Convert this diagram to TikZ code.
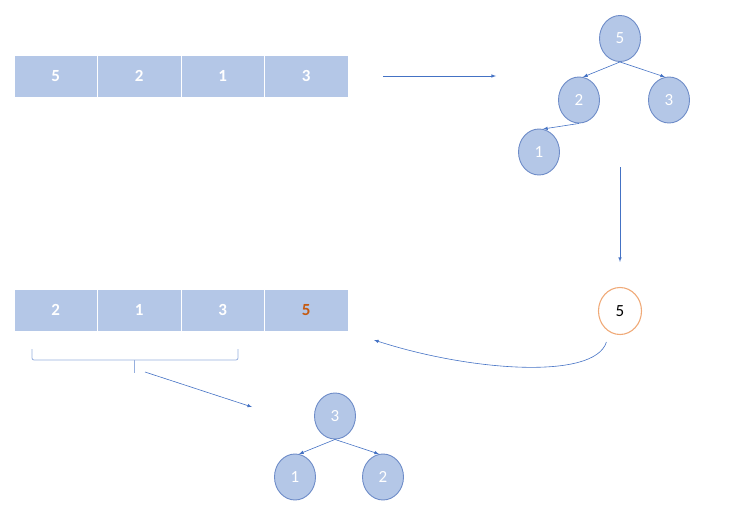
\documentclass[tikz,border=0pt]{standalone}
\usepackage{fontspec}
\setmainfont{Carlito}
\usepackage{tikz}
\usetikzlibrary{shapes.geometric, arrows, positioning, calc}
\definecolor{cellblue}{RGB}{180,199,231}
\definecolor{rimblue}{RGB}{110,140,200}
\definecolor{linkblue}{RGB}{68,114,196}
\definecolor{pivotorange}{RGB}{240,170,120}
\definecolor{keyorange}{RGB}{197,90,17}
\definecolor{bracegray}{RGB}{150,175,222}

\begin{document}
\begin{tikzpicture}[
    x=1pt, y=1pt,
    cell/.style={rectangle, minimum width=83.5pt, minimum height=42pt, inner sep=0pt, outer sep=0pt,
                 fill=cellblue, draw=white, line width=1pt, text=white, font=\fontsize{17}{20}\selectfont\bfseries},
    heapnode/.style={ellipse, minimum width=41pt, minimum height=46pt, inner sep=0pt,
                     fill=cellblue, draw=rimblue, line width=0.9pt, text=white, font=\fontsize{17}{20}\selectfont},
    pivotnode/.style={ellipse, minimum width=43pt, minimum height=47pt, inner sep=0pt,
                      fill=white, draw=pivotorange, line width=1.1pt, font=\fontsize{17}{20}\selectfont},
    link/.style={draw=linkblue, -latex, line width=0.6pt},
    bracket/.style={draw=bracegray, line width=0.8pt}
]
    \useasboundingbox (0,0) rectangle (740,-506);
    % Input array
    \node[cell] (t1) at (55.75,-76) {5};
    \node[cell, right=0pt of t1] (t2) {2};
    \node[cell, right=0pt of t2] (t3) {1};
    \node[cell, right=0pt of t3] (t4) {3};
    % Heap built from the array
    \node[heapnode] (h5) at (620,-38.5) {5};
    \node[heapnode] (h2) at (579,-100) {2};
    \node[heapnode] (h3) at (669,-100) {3};
    \node[heapnode] (h1) at (539,-152) {1};
    \draw[link, shorten <=35pt, shorten >=62pt] (t4.east) -- (t4.east -| h2.west);
    \draw[link] (h5.south) -- (h2.80);
    \draw[link] (h5.south) -- (h3.100);
    \draw[link] (h2.south) -- (h1.80);
    % Extracted maximum
    \node[pivotnode] (pivot) at (620,-311) {5};
    \draw[link] ([yshift=8pt]pivot.north |- h1.south) -- ([yshift=25pt]pivot.north);
    % Array after the swap
    \node[cell] (b1) at (55.75,-310) {2};
    \node[cell, right=0pt of b1] (b2) {1};
    \node[cell, right=0pt of b2] (b3) {3};
    \node[cell, right=0pt of b3, text=keyorange] (b4) {5};
    \coordinate (back) at ([shift={(26pt,-9pt)}]b4.south east);
    \draw[link] ([shift={(2pt,-14pt)}]pivot.south west)
        to[out=-107, in=-18, out distance=40pt, in distance=101pt] (back);
    % Bracket under the unsorted part
    \coordinate (brace) at (134,-373);
    \draw[bracket, rounded corners=2pt] (32,-349) -- (32,-360) -- (238,-360) -- (238,-349);
    \draw[bracket] (134,-360) -- (brace);
    % Rebuilt heap
    \node[heapnode] (r3) at (335,-416) {3};
    \node[heapnode] (r1) at (295,-477) {1};
    \node[heapnode] (r2) at (383,-477) {2};
    \coordinate (sub) at ([shift={(-62pt,9pt)}]r3.west);
    \draw[link] ([shift={(11pt,1pt)}]brace) -- (sub);
    \draw[link] (r3.south) -- (r1.80);
    \draw[link] (r3.south) -- (r2.100);
\end{tikzpicture}
\end{document}
